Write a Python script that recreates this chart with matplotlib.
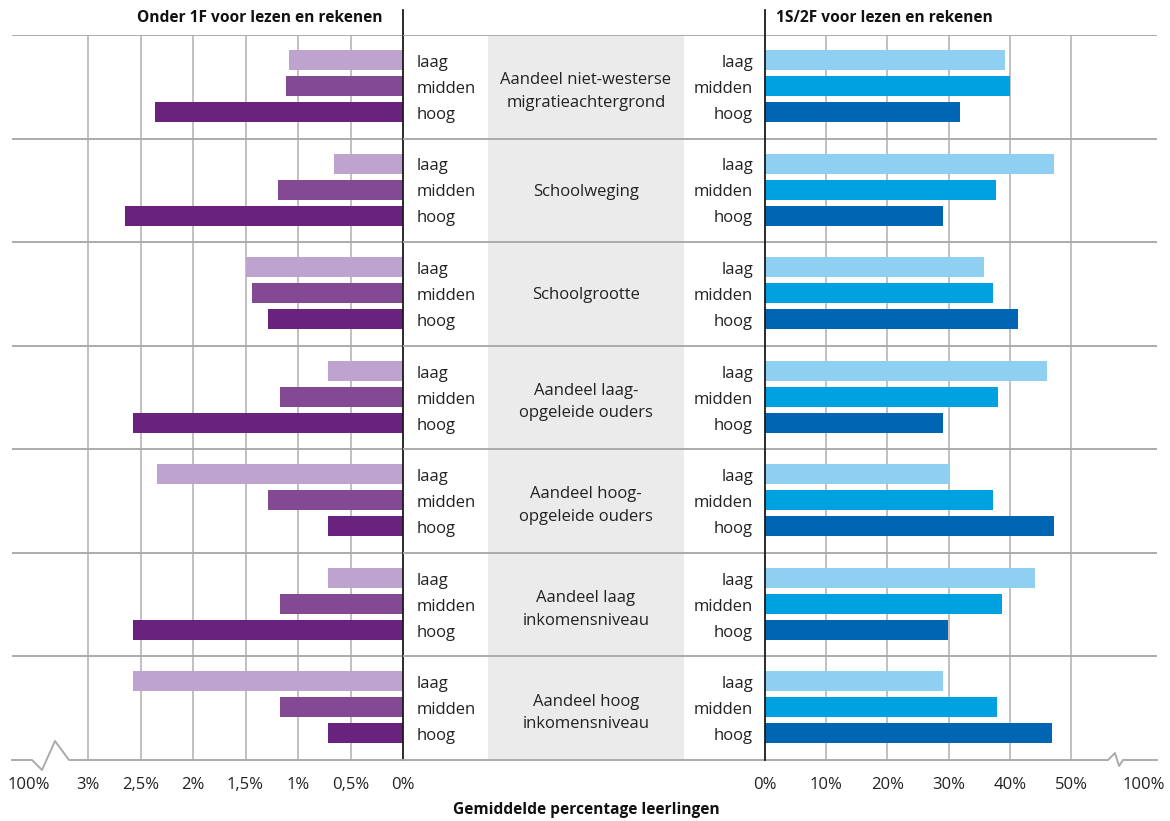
import matplotlib
matplotlib.use("Agg")
import matplotlib.pyplot as plt
import numpy as np

plt.rcParams['font.family'] = ['Open Sans', 'DejaVu Sans']

categories = ["Aandeel niet-westerse\nmigratieachtergrond", "Schoolweging", "Schoolgrootte",
              "Aandeel laag-\nopgeleide ouders", "Aandeel hoog-\nopgeleide ouders",
              "Aandeel laag\ninkomensniveau", "Aandeel hoog\ninkomensniveau"]
levels = ["laag", "midden", "hoog"]

# Onder 1F (%)
onder_laag   = [1.09, 0.66, 1.50, 0.71, 2.34, 0.71, 2.57]
onder_midden = [1.11, 1.19, 1.44, 1.17, 1.29, 1.17, 1.17]
onder_hoog   = [2.36, 2.65, 1.29, 2.57, 0.71, 2.57, 0.71]

# 1S/2F (%)
boven_laag   = [39.2, 47.2, 35.8, 46.1, 30.1, 44.1, 29.1]
boven_midden = [40.0, 37.7, 37.3, 38.1, 37.3, 38.7, 37.9]
boven_hoog   = [31.9, 29.1, 41.3, 29.1, 47.2, 29.9, 46.9]

left_ticks = [0, 0.5, 1, 1.5, 2, 2.5, 3]
left_ticklabels = ["0%", "0,5%", "1%", "1,5%", "2%", "2,5%", "3%"]
right_ticks = [0, 10, 20, 30, 40, 50]
right_ticklabels = ["0%", "10%", "20%", "30%", "40%", "50%"]

purple = ["#BFA3CF", "#834A93", "#69237F"]
blue = ["#8FD0F2", "#00A1E1", "#0066B3"]
grid_c = "#B5B5B5"
sep_c = "#ABABAB"

W, H = 1170, 821
fig = plt.figure(figsize=(W/100, H/100), dpi=100)

def ax_rect(x0, x1, y0=35, y1=760):
    return [x0/W, 1 - y1/H, (x1-x0)/W, (y1-y0)/H]

axL = fig.add_axes(ax_rect(12, 403))
axM = fig.add_axes(ax_rect(403, 765))
axR = fig.add_axes(ax_rect(765, 1157))

n = len(categories)
offs = np.array([0.241, 0.492, 0.743])
bh = 0.193
pos = np.arange(n)

# scales
px_per_pct_L = 105.0
axL.set_xlim((403-12)/px_per_pct_L, 0)
px_per_pct_R = 6.12
axR.set_xlim(0, (1157-765)/px_per_pct_R)
for ax in (axL, axM, axR):
    ax.set_ylim(n, 0)
    for s in ax.spines.values():
        s.set_visible(False)
    ax.set_yticks([])
    ax.patch.set_alpha(0)
axM.set_xlim(0, 1)
axM.set_xticks([])

# gray box in middle
axM.axvspan(0.235, 0.776, color="#EBEBEB", zorder=0, lw=0)

# gridlines
for t in left_ticks[1:]:
    axL.axvline(t, color=grid_c, lw=1.2, zorder=1)
for t in right_ticks[1:]:
    axR.axvline(t, color=grid_c, lw=1.2, zorder=1)

# separators
for ax in (axL, axM, axR):
    for k in range(n):
        ax.axhline(k, color=sep_c, lw=1.4, zorder=1)

# bottom lines with breaks
yb = n
def px2yl(py):
    return (py-35)/103.57
xl = lambda px: (403-px)/px_per_pct_L
xr = lambda px: (px-765)/px_per_pct_R
axL.plot([xl(12), xl(32), xl(42), xl(55), xl(69), xl(403)],
         [yb, yb, px2yl(770), px2yl(741), yb, yb], color=sep_c, lw=1.4, clip_on=False, zorder=3)
axM.axhline(n, color=sep_c, lw=1.4, clip_on=False, zorder=3)
axR.plot([xr(765), xr(1108), xr(1115), xr(1119), xr(1123), xr(1157)],
         [yb, yb, px2yl(753), px2yl(766), yb, yb], color=sep_c, lw=1.4, clip_on=False, zorder=3)

# bars
for vals, o, c in zip([onder_laag, onder_midden, onder_hoog], offs, purple):
    axL.barh(pos + o, vals, height=bh, color=c, zorder=2, lw=0)
for vals, o, c in zip([boven_laag, boven_midden, boven_hoog], offs, blue):
    axR.barh(pos + o, vals, height=bh, color=c, zorder=2, lw=0)

# zero lines
ext = (760-10)/725
axL.axvline(0, ymin=0, ymax=ext, color="#1A1A1A", lw=1.3, clip_on=False, zorder=4)
axR.axvline(0, ymin=0, ymax=ext, color="#1A1A1A", lw=1.3, clip_on=False, zorder=4)

# level labels and categories
fs = 12
dy = 0.028
for k in range(n):
    for o, lab in zip(offs, levels):
        axM.text(0.0387, k + o + dy, lab, ha="left", va="center", fontsize=fs, color="#222222")
        axM.text(0.967, k + o + dy, lab, ha="right", va="center", fontsize=fs, color="#222222")
    cy = 0.545 if "\n" in categories[k] else 0.515
    axM.text(0.5055, k + cy, categories[k], ha="center", va="center", fontsize=fs,
             color="#222222", linespacing=1.55)

# ticks
axL.set_xticks(left_ticks + [xl(29)])
axL.set_xticklabels(left_ticklabels + ["100%"])
axR.set_xticks(right_ticks + [xr(1144)])
axR.set_xticklabels(right_ticklabels + ["100%"])
for ax in (axL, axR):
    ax.tick_params(axis="x", length=0, pad=12, labelsize=fs, labelcolor="#222222")

# titles
tfs = 11.2
fig.text(260/W, 1-18/H, "Onder 1F voor lezen en rekenen", ha="center", va="center",
         fontsize=tfs, fontweight="bold", color="#111111")
fig.text(884/W, 1-18/H, "1S/2F voor lezen en rekenen", ha="center", va="center",
         fontsize=tfs, fontweight="bold", color="#111111")
fig.text(586/W, 1-810/H, "Gemiddelde percentage leerlingen", ha="center", va="center",
         fontsize=tfs, fontweight="bold", color="#111111")

fig.savefig("out.png", dpi=100)
